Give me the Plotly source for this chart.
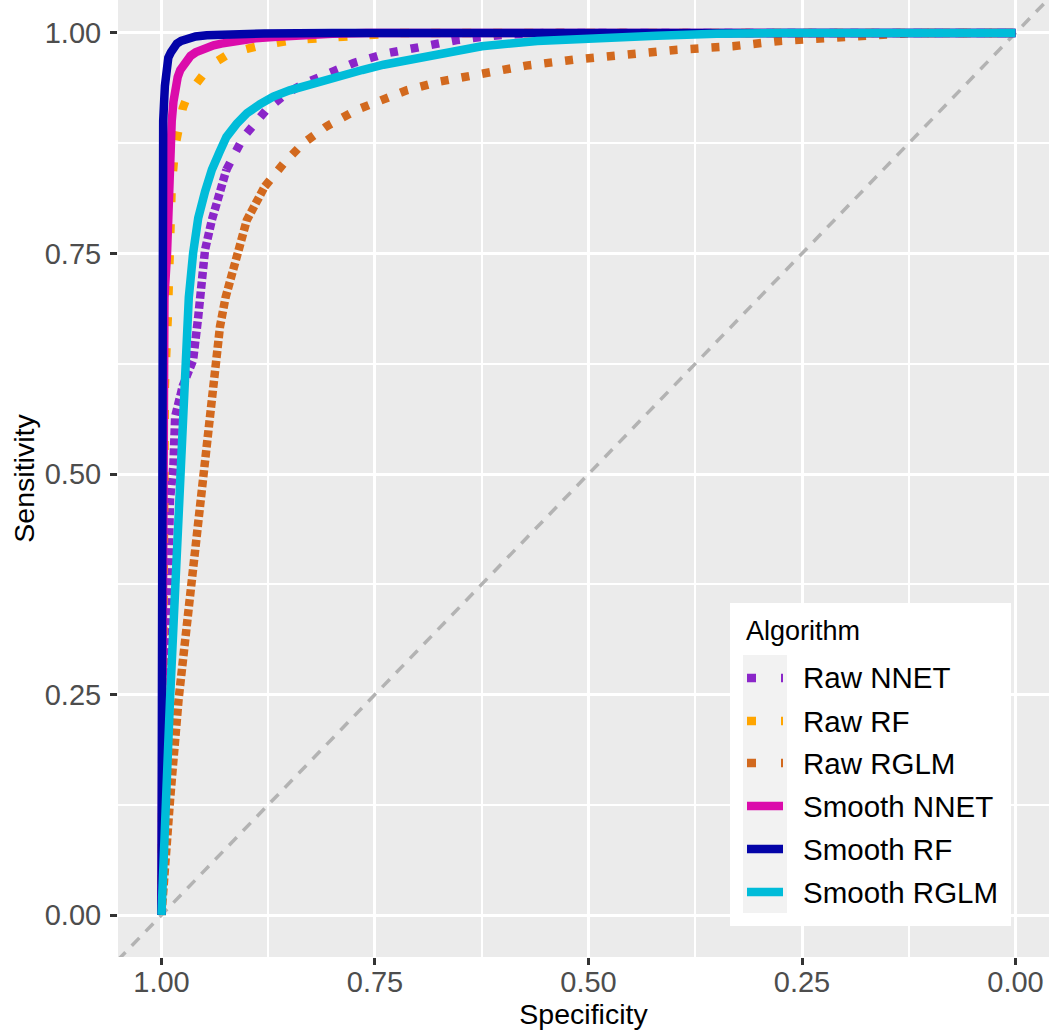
import plotly.graph_objects as go

# ROC curves: (specificity, sensitivity) pairs per algorithm
raw_nnet_spec = [1.0, 0.998, 0.996, 0.993, 0.990, 0.986, 0.984, 0.975, 0.963, 0.957, 0.949, 0.941,
                 0.924, 0.904, 0.877, 0.853, 0.830, 0.807, 0.775, 0.736, 0.711, 0.682, 0.654,
                 0.625, 0.600, 0.550, 0.400, 0.200, 0.0]
raw_nnet_sens = [0.0, 0.12, 0.26, 0.376, 0.471, 0.51, 0.565, 0.60, 0.629, 0.678, 0.754, 0.788,
                 0.845, 0.882, 0.913, 0.932, 0.944, 0.954, 0.966, 0.977, 0.982, 0.986, 0.992,
                 0.9955, 0.998, 1.0, 1.0, 1.0, 1.0]

raw_rf_spec = [1.0, 0.998, 0.996, 0.9925, 0.991, 0.988, 0.984, 0.980, 0.975, 0.969, 0.958,
               0.947, 0.935, 0.920, 0.900, 0.883, 0.846, 0.811, 0.772, 0.720, 0.500, 0.200, 0.0]
raw_rf_sens = [0.0, 0.35, 0.60, 0.68, 0.75, 0.826, 0.871, 0.898, 0.915, 0.930, 0.945,
               0.958, 0.968, 0.977, 0.982, 0.986, 0.992, 0.994, 0.997, 1.0, 1.0, 1.0, 1.0]

raw_rglm_spec = [1.0, 0.998, 0.995, 0.990, 0.980, 0.967, 0.959, 0.952, 0.941, 0.9315, 0.925,
                 0.912, 0.900, 0.879, 0.857, 0.834, 0.807, 0.771, 0.740, 0.713, 0.674, 0.625,
                 0.573, 0.515, 0.456, 0.396, 0.331, 0.276, 0.209, 0.170, 0.120, 0.0]
raw_rglm_sens = [0.0, 0.028, 0.054, 0.130, 0.244, 0.357, 0.433, 0.501, 0.584, 0.667, 0.700,
                 0.750, 0.788, 0.826, 0.852, 0.875, 0.894, 0.913, 0.924, 0.935, 0.945, 0.954,
                 0.963, 0.970, 0.976, 0.981, 0.985, 0.991, 0.995, 0.998, 1.0, 1.0]

smooth_nnet_spec = [1.0, 0.999, 0.998, 0.9965, 0.9935, 0.991, 0.988, 0.986, 0.984, 0.981, 0.978,
                    0.9745, 0.9705, 0.966, 0.960, 0.954, 0.947, 0.939, 0.930, 0.920, 0.908, 0.890,
                    0.869, 0.850, 0.830, 0.800, 0.760, 0.600, 0.300, 0.0]
smooth_nnet_sens = [0.0, 0.30, 0.55, 0.70, 0.75, 0.85, 0.90, 0.922, 0.939, 0.950, 0.958,
                    0.964, 0.969, 0.974, 0.978, 0.981, 0.984, 0.986, 0.988, 0.990, 0.992, 0.994,
                    0.9955, 0.997, 0.998, 0.999, 1.0, 1.0, 1.0, 1.0]

smooth_rf_spec = [1.0, 0.9995, 0.999, 0.998, 0.996, 0.994, 0.992, 0.989, 0.987, 0.982, 0.977,
                  0.972, 0.966, 0.960, 0.947, 0.920, 0.880, 0.800, 0.600, 0.300, 0.0]
smooth_rf_sens = [0.0, 0.40, 0.75, 0.90, 0.94, 0.960, 0.972, 0.978, 0.982, 0.988, 0.991,
                  0.993, 0.995, 0.996, 0.9975, 0.9988, 0.9995, 1.0, 1.0, 1.0, 1.0]

smooth_rglm_spec = [1.0, 0.999, 0.9947, 0.990, 0.985, 0.980, 0.976, 0.972, 0.968, 0.963, 0.957,
                    0.949, 0.941, 0.932, 0.924, 0.912, 0.900, 0.885, 0.869, 0.850, 0.830, 0.810,
                    0.791, 0.765, 0.740, 0.710, 0.674, 0.625, 0.560, 0.500, 0.420, 0.350, 0.280,
                    0.0]
smooth_rglm_sens = [0.0, 0.017, 0.130, 0.244, 0.357, 0.470, 0.560, 0.630, 0.700, 0.750, 0.790,
                    0.820, 0.845, 0.865, 0.882, 0.897, 0.909, 0.919, 0.928, 0.935, 0.941, 0.947,
                    0.952, 0.958, 0.964, 0.970, 0.977, 0.985, 0.991, 0.994, 0.997, 0.999, 1.0,
                    1.0]

series_names = ["Raw NNET", "Raw RF", "Raw RGLM", "Smooth NNET", "Smooth RF", "Smooth RGLM"]
series_colors = ["#8B26C9", "#FFA500", "#D2691E", "#DB0BAB", "#0303A8", "#00BCD9"]
series_dash = ["8px,13px", "9px,22px", "8px,13px", "solid", "solid", "solid"]
# raw step curves look almost solid where they climb steeply; dots tighten below this sensitivity
steep_dash = ["7px,3px", None, "7px,3px", None, None, None]
steep_limit = 0.80
series_x = [raw_nnet_spec, raw_rf_spec, raw_rglm_spec, smooth_nnet_spec, smooth_rf_spec, smooth_rglm_spec]
series_y = [raw_nnet_sens, raw_rf_sens, raw_rglm_sens, smooth_nnet_sens, smooth_rf_sens, smooth_rglm_sens]

axis_ticks = [0.0, 0.25, 0.5, 0.75, 1.0]
axis_tick_labels = ["0.00", "0.25", "0.50", "0.75", "1.00"]

FONT = "Liberation Sans, Arial, sans-serif"
W, H = 1049, 1033
ML, MB = 118, 76
PW, PH = W - ML, H - MB

fig = go.Figure()

# chance diagonal
fig.add_trace(go.Scatter(x=[1.1, -0.1], y=[-0.1, 1.1], mode="lines",
                         line=dict(color="#B3B3B3", width=3.5, dash="11px,9px"),
                         showlegend=False, hoverinfo="skip"))

for name, xs, ys, col, dash, sdash in zip(series_names, series_x, series_y, series_colors,
                                          series_dash, steep_dash):
    if sdash is None:
        fig.add_trace(go.Scatter(x=xs, y=ys, mode="lines", name=name,
                                 line=dict(color=col, width=8.5, dash=dash), showlegend=False))
        continue
    k = next(i for i, v in enumerate(ys) if v >= steep_limit)
    fig.add_trace(go.Scatter(x=xs[:k + 1], y=ys[:k + 1], mode="lines", name=name,
                             line=dict(color=col, width=8.5, dash=sdash), showlegend=False))
    fig.add_trace(go.Scatter(x=xs[k:], y=ys[k:], mode="lines", name=name,
                             line=dict(color=col, width=8.5, dash=dash), showlegend=False))


def fx(p):
    return (p - ML) / PW


def fy(p):
    return (PH - p) / PH


# legend drawn as a boxed key
shapes = [
    dict(type="rect", xref="paper", yref="paper", x0=fx(730), x1=fx(1011), y0=fy(926), y1=fy(603),
         fillcolor="white", line=dict(width=0), layer="above"),
    dict(type="rect", xref="paper", yref="paper", x0=fx(743), x1=fx(787), y0=fy(913), y1=fy(655),
         fillcolor="#F2F2F2", line=dict(width=0), layer="above"),
]
annotations = [
    dict(text="Algorithm", xref="paper", yref="paper", x=fx(744), y=fy(631), xanchor="left",
         yanchor="middle", showarrow=False, font=dict(family=FONT, size=27, color="black")),
]
row_y = [678, 721, 763, 806, 849, 892]
for name, col, dash, ry in zip(series_names, series_colors, series_dash, row_y):
    key_dash = "solid" if dash == "solid" else "9px,25px"
    shapes.append(dict(type="line", xref="paper", yref="paper", x0=fx(747), x1=fx(783),
                       y0=fy(ry), y1=fy(ry), line=dict(color=col, width=8.5, dash=key_dash),
                       layer="above"))
    annotations.append(dict(text=name, xref="paper", yref="paper", x=fx(801), y=fy(ry),
                            xanchor="left", yanchor="middle", showarrow=False,
                            font=dict(family=FONT, size=29.5, color="black")))

axis_common = dict(
    tickmode="array", tickvals=axis_ticks, ticktext=axis_tick_labels,
    ticks="outside", ticklen=7, tickwidth=2.7, tickcolor="#333333",
    tickfont=dict(family=FONT, size=29, color="#4D4D4D"),
    showgrid=True, gridcolor="white", gridwidth=3,
    minor=dict(tickmode="array", tickvals=[0.125, 0.375, 0.625, 0.875],
               showgrid=True, gridcolor="white", gridwidth=1.5, ticks=""),
    zeroline=False, showline=False, automargin=False,
)

fig.update_layout(
    width=W, height=H,
    margin=dict(l=ML, r=0, t=0, b=MB, pad=0),
    paper_bgcolor="white", plot_bgcolor="#EBEBEB",
    font=dict(family=FONT),
    xaxis=dict(range=[1.0509, -0.0392],
               title=dict(text="Specificity", font=dict(family=FONT, size=28.5, color="black"),
                          standoff=4),
               ticklabelstandoff=-8, **axis_common),
    yaxis=dict(range=[-0.0476, 1.0374],
               title=dict(text="Sensitivity", font=dict(family=FONT, size=28.5, color="black"),
                          standoff=1),
               ticklabelstandoff=3, **axis_common),
    shapes=shapes, annotations=annotations,
    showlegend=False,
)

fig.write_html("out.html")
